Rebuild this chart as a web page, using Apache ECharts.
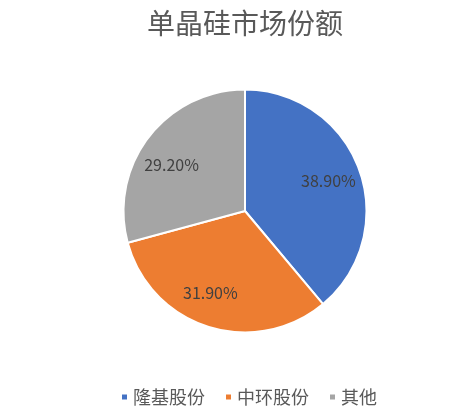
<!DOCTYPE html>
<html>
<head>
<meta charset="utf-8">
<script src="https://cdn.jsdelivr.net/npm/echarts@6/dist/echarts.min.js"></script>
<style>
html, body { margin:0; padding:0; background:#fff; }
#main { width:466px; height:417px; }
</style>
</head>
<body>
<div id="main"></div>
<script>
// 数据
var categories = ['隆基股份', '中环股份', '其他'];
var shares = [38.9, 31.9, 29.2];
var colors = ['#4472C4', '#ED7D31', '#A5A5A5'];

// 标签微调(仿Excel的标签位置)
var labelNudge = [[0, 0], [-8, -3], [-3, 8]];

var chartDom = document.getElementById('main');
var myChart = echarts.init(chartDom);

var pieData = categories.map(function(name, i){
    return {name: name, value: shares[i], itemStyle: {color: colors[i]}};
});

var font = '"Noto Sans CJK SC", "Noto Sans", sans-serif';

var option = {
    animation: false,
    title: {
        text: '单晶硅市场份额',
        left: 142,
        top: 4,
        textStyle: {
            fontFamily: font,
            fontSize: 28,
            fontWeight: 'normal',
            color: '#595959'
        }
    },
    legend: {
        data: categories,
        left: 115,
        top: 383,
        icon: 'rect',
        itemWidth: 7,
        itemHeight: 7,
        itemGap: 19,
        textStyle: {
            fontFamily: font,
            fontSize: 18,
            color: '#595959'
        }
    },
    series: [
        {
            // 扇区
            type: 'pie',
            center: [245, 211],
            radius: [0, 121.5],
            startAngle: 90,
            clockwise: true,
            label: {show: false},
            labelLine: {show: false},
            itemStyle: {borderColor: '#fff', borderWidth: 2},
            emphasis: {disabled: true},
            data: pieData
        },
        {
            // 标签层
            type: 'pie',
            center: [245, 211],
            radius: [50, 121.5],
            startAngle: 90,
            clockwise: true,
            silent: true,
            legendHoverLink: false,
            itemStyle: {color: 'transparent', borderWidth: 0},
            label: {
                show: true,
                position: 'inside',
                formatter: function(p){ return p.value.toFixed(2) + '%'; },
                fontFamily: font,
                fontSize: 16,
                color: '#404040'
            },
            labelLine: {show: false},
            emphasis: {disabled: true},
            data: categories.map(function(name, i){
                return {name: name + ' ', value: shares[i], label: {offset: labelNudge[i]}};
            })
        }
    ]
};

option && myChart.setOption(option);
</script>
</body>
</html>
